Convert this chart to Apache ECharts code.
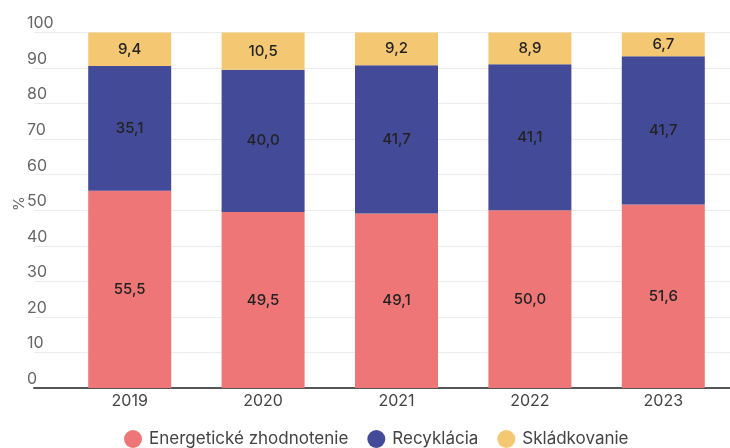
<!DOCTYPE html>
<html><head><meta charset="utf-8">
<script src="https://cdn.jsdelivr.net/npm/echarts@6/dist/echarts.min.js"></script>
<style>html,body{margin:0;padding:0;background:#fff}#c{width:730px;height:448px}</style>
</head><body><div id="c"></div>
<script>
const years = ['2019', '2020', '2021', '2022', '2023'];
const energetic = [55.5, 49.5, 49.1, 50.0, 51.6];
const recycling = [35.1, 40.0, 41.7, 41.1, 41.7];
const landfill = [9.4, 10.5, 9.2, 8.9, 6.7];
const yTicks = [0, 10, 20, 30, 40, 50, 60, 70, 80, 90, 100];
const names = ['Energetické zhodnotenie', 'Recyklácia', 'Skládkovanie'];
const colors = ['#EE7676', '#434A98', '#F4C872'];

const FONT = 'Inter, Roboto, sans-serif';
const chart = echarts.init(document.getElementById('c'), null, {renderer: 'canvas'});
const fmt = p => String(p.value.toFixed(1)).replace('.', ',');
function mk(name, data, color) {
  return {
    name, type: 'bar', stack: 'total', data, xAxisIndex: 0, yAxisIndex: 0,
    barWidth: 83, itemStyle: {color},
    label: {show: true, position: 'inside', formatter: fmt, color: '#222',
      fontSize: 15, fontWeight: 500, fontFamily: FONT},
    emphasis: {disabled: true}
  };
}
chart.setOption({
  animation: false,
  textStyle: {fontFamily: FONT},
  grid: [
    {left: 63, top: 32.5, width: 679, height: 355.5},
    {left: 34, top: 32.5, right: 0, height: 355.5}
  ],
  graphic: [{
    type: 'text', x: 12, y: 211, rotation: Math.PI / 2,
    style: {text: '%', fontSize: 15, fill: '#666', fontFamily: FONT}
  }],
  legend: {
    left: 119, top: 425, itemWidth: 18, itemHeight: 18, itemGap: 19, icon: 'circle',
    data: names,
    textStyle: {fontSize: 17, color: '#444', fontFamily: FONT, padding: [0, 0, 0, 2]}
  },
  xAxis: [
    {type: 'category', gridIndex: 0, data: years,
      axisLine: {show: false}, axisTick: {show: false},
      axisLabel: {fontSize: 16, color: '#444', margin: 5, fontFamily: FONT}},
    {type: 'value', gridIndex: 1, min: 0, max: 1, show: true,
      axisLine: {show: true, onZero: false, lineStyle: {color: '#555', width: 2}},
      axisTick: {show: false}, axisLabel: {show: false}, splitLine: {show: false}}
  ],
  yAxis: [
    {type: 'value', gridIndex: 0, min: 0, max: 100, interval: 10, show: false},
    {type: 'value', gridIndex: 1, min: 0, max: 100, interval: 10,
      axisLine: {show: false}, axisTick: {show: false},
      axisLabel: {inside: true, align: 'left', verticalAlign: 'bottom', margin: -7, padding: [0, 0, 1, 0],
        fontSize: 16, color: '#666', fontFamily: FONT,
        formatter: v => yTicks.includes(v) ? String(v) : ''},
      splitLine: {lineStyle: {color: '#ececec', width: 1}}}
  ],
  series: [
    mk(names[0], energetic, colors[0]),
    mk(names[1], recycling, colors[1]),
    mk(names[2], landfill, colors[2])
  ]
});
</script></body></html>
